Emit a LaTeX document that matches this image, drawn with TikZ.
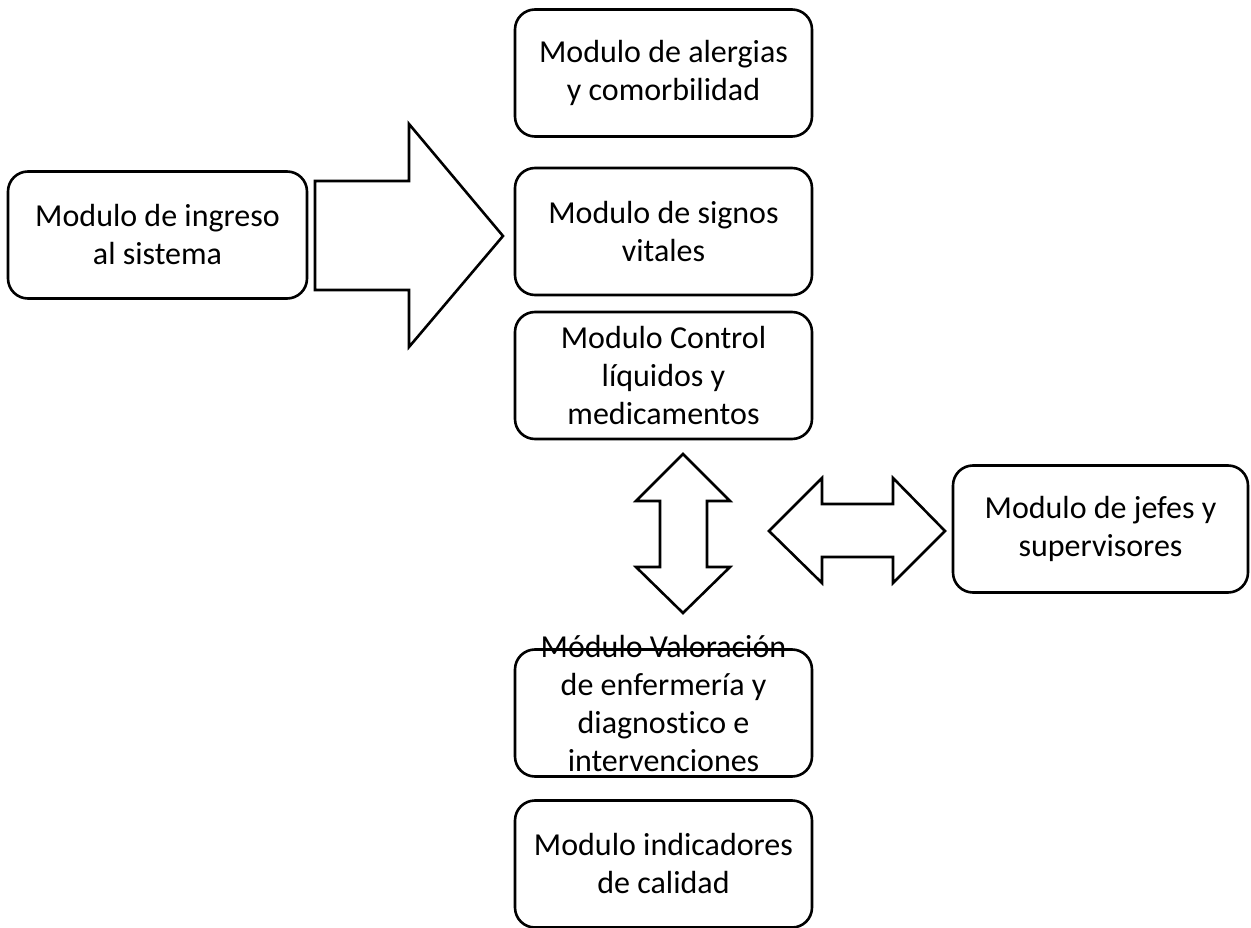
\documentclass[tikz,border=0pt]{standalone}
\usepackage{fontspec}
\setmainfont{Carlito}[Ligatures=NoCommon]
\tikzset{
  modulo/.style={draw, line width=2.6pt, rounded corners=20pt, align=center,
    minimum width=297pt, minimum height=127pt, inner sep=0pt,
    font=\fontsize{32}{38}\selectfont},
  flecha/.style={draw, line width=2.6pt, fill=white, line join=miter},
}
\begin{document}
\begin{tikzpicture}[x=1pt,y=-1pt]
			\useasboundingbox (0,0) rectangle (1251,928);
			% columna central
			\node[modulo] (alergias) at (663.5,73) {Modulo de alergias\\y comorbilidad};
			\node[modulo] (signos) at (663.5,231.5) {Modulo de signos\\vitales};
			\node[modulo] (control) at (663.5,375.5) {Modulo Control\\líquidos y\\medicamentos};
			\node[modulo, text height=122pt, text depth=5pt] (valoracion) at (663.5,713) {Módulo Valoración\\de enfermería y\\diagnostico e\\intervenciones};
			\node[modulo] (indicadores) at (663.5,864) {Modulo indicadores\\de calidad};
			% laterales
			\node[modulo, minimum width=299pt] (ingreso) at (157.5,235) {Modulo de ingreso\\al sistema};
			\node[modulo, minimum width=295pt] (jefes) at (1100.5,529) {Modulo de jefes y\\supervisores};
			% flecha grande
			\draw[flecha] (315,181) -- (409,181) -- (409,124) -- (503,236) -- (409,347) -- (409,290) -- (315,290) -- cycle;
			% flecha vertical doble
			\draw[flecha] (683,454) -- (730,501) -- (707,501) -- (707,567) -- (730,567) -- (683,613)
				-- (636,567) -- (660,567) -- (660,501) -- (636,501) -- cycle;
			% flecha horizontal doble
			\draw[flecha] (769,531) -- (822,478) -- (822,504) -- (893,504) -- (893,478) -- (945,531)
				-- (893,583) -- (893,557) -- (822,557) -- (822,583) -- cycle;
\end{tikzpicture}
\end{document}
